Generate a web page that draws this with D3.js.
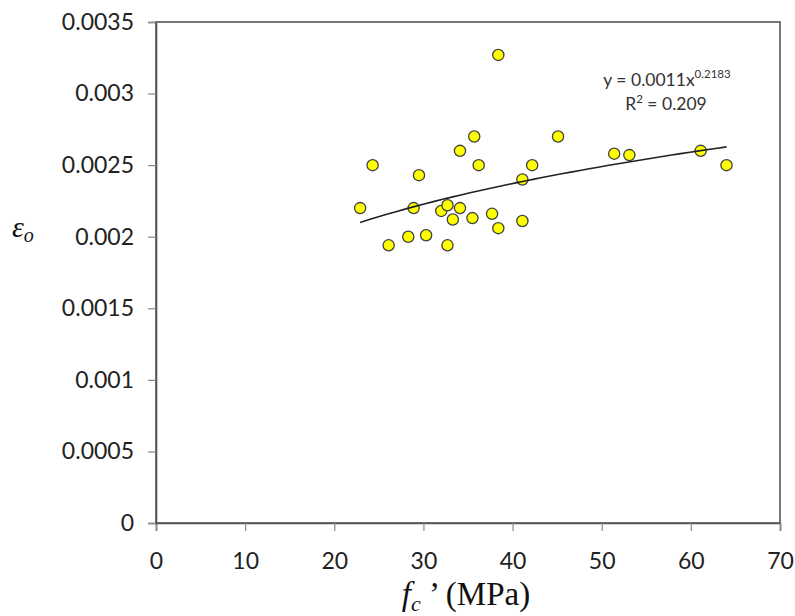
<!doctype html>
<html>
  <head>
    <title>Strain at peak vs compressive strength</title>
    <script src="https://d3js.org/d3.v7.min.js"></script>
    <style>
        body {
            margin: 0;
            padding: 0;
            background: #fff;
        }
        .tick text {
            font-family: Lato, "Open Sans", sans-serif;
            font-size: 23px;
            fill: #222;
        }
        .equation {
            font-family: Lato, "Open Sans", sans-serif;
            font-size: 17.5px;
            fill: #333;
        }
        .axisTitle {
            font-family: "Liberation Serif", "Times New Roman", serif;
            fill: #111;
        }
    </style>
  </head>
  <body>
    <div id="chart"></div>
    <script>
        /*
        Data
        */
        var fcValues = [22.9, 24.3, 26.1, 28.3, 30.3, 29.5, 28.9, 32.0, 32.7, 33.3,
                        32.7, 34.1, 34.1, 35.7, 36.2, 35.5, 37.7, 38.4, 41.1, 41.1,
                        42.2, 45.1, 51.4, 53.1, 61.1, 64.0, 38.4];
        var strainValues = [0.0022, 0.0025, 0.00194, 0.0020, 0.00201, 0.00243, 0.0022, 0.00218, 0.00222, 0.00212,
                            0.00194, 0.0022, 0.0026, 0.0027, 0.0025, 0.00213, 0.00216, 0.00206, 0.0024, 0.00211,
                            0.0025, 0.0027, 0.00258, 0.00257, 0.0026, 0.0025, 0.00327];
        var xTicks = [0, 10, 20, 30, 40, 50, 60, 70];
        var yTicks = [0, 0.0005, 0.001, 0.0015, 0.002, 0.0025, 0.003, 0.0035];
        var yTickLabels = ["0", "0.0005", "0.001", "0.0015", "0.002", "0.0025", "0.003", "0.0035"];
        // power trend y = a * x^b
        var trendA = 0.00106;
        var trendB = 0.2183;
        var equationText = ["y = 0.0011x", "0.2183"];
        var r2Text = ["R", "2", " = 0.209"];

        var width = 795;
        var height = 616;
        var plotLeft = 156, plotRight = 780, plotTop = 22, plotBottom = 523;

        var svg = d3.select("#chart")
            .append("svg")
            .attr("width", width)
            .attr("height", height);

        var x = d3.scaleLinear().domain([0, 70]).range([plotLeft, plotRight]);
        var y = d3.scaleLinear().domain([0, 0.0035]).range([plotBottom, plotTop]);

        // plot frame
        svg.append("rect")
            .attr("x", plotLeft)
            .attr("y", plotTop)
            .attr("width", plotRight - plotLeft)
            .attr("height", plotBottom - plotTop)
            .attr("fill", "none")
            .attr("stroke", "#555")
            .attr("stroke-width", 1.6);

        // axes
        var xAxis = svg.append("g")
            .attr("transform", "translate(0," + plotBottom + ")")
            .call(d3.axisBottom(x).tickValues(xTicks).tickSize(8).tickPadding(22));
        var yAxis = svg.append("g")
            .attr("transform", "translate(" + plotLeft + ",0)")
            .call(d3.axisLeft(y).tickValues(yTicks).tickSize(8).tickPadding(14)
                .tickFormat((d, i) => yTickLabels[i]));
        [xAxis, yAxis].forEach(function(g) {
            g.attr("font-family", null).attr("font-size", null);
            g.select(".domain").attr("stroke", "#555").attr("stroke-width", 1.6);
            g.selectAll(".tick line").attr("stroke", "#888").attr("stroke-width", 1.2);
        });

        // points
        var points = fcValues.map((d, i) => [d, strainValues[i]]);
        svg.append("g")
            .selectAll("circle")
            .data(points)
            .enter()
            .append("circle")
            .attr("cx", (d) => x(d[0]))
            .attr("cy", (d) => y(d[1]))
            .attr("r", 5.6)
            .attr("fill", "#ffff00")
            .attr("stroke", "#404040")
            .attr("stroke-width", 1.3);

        // trend line over the data range
        var xMin = d3.min(fcValues), xMax = d3.max(fcValues);
        var trendData = d3.range(0, 41).map((i) => xMin + (xMax - xMin) * i / 40);
        svg.append("path")
            .datum(trendData)
            .attr("fill", "none")
            .attr("stroke", "#222")
            .attr("stroke-width", 1.6)
            .attr("d", d3.line()
                .x((d) => x(d))
                .y((d) => y(trendA * Math.pow(d, trendB))));

        // equation
        var eq = svg.append("text")
            .attr("class", "equation")
            .attr("x", 667)
            .attr("y", 86)
            .attr("text-anchor", "middle");
        eq.append("tspan").text(equationText[0]);
        eq.append("tspan").attr("font-size", "11.5px").attr("dy", -8).text(equationText[1]);

        var r2 = svg.append("text")
            .attr("class", "equation")
            .attr("x", 666)
            .attr("y", 110)
            .attr("text-anchor", "middle");
        r2.append("tspan").text(r2Text[0]);
        r2.append("tspan").attr("font-size", "11.5px").attr("dy", -7).text(r2Text[1]);
        r2.append("tspan").attr("dy", 7).text(r2Text[2]);

        // axis titles
        var yTitle = svg.append("text")
            .attr("class", "axisTitle")
            .attr("x", 12)
            .attr("y", 237)
            .attr("font-size", "30px")
            .attr("font-style", "italic");
        yTitle.append("tspan").text("\u03b5");
        yTitle.append("tspan").attr("font-size", "20px").attr("dy", 5).text("o");

        var xTitle = svg.append("text")
            .attr("class", "axisTitle")
            .attr("x", 466)
            .attr("y", 605)
            .attr("font-size", "33px")
            .attr("text-anchor", "middle");
        xTitle.append("tspan").attr("font-style", "italic").text("f");
        xTitle.append("tspan").attr("font-style", "italic").attr("font-size", "22px").attr("dy", 6).text("c");
        xTitle.append("tspan").attr("dy", -6).text(" \u2019 (MPa)");
    </script>
  </body>
</html>
